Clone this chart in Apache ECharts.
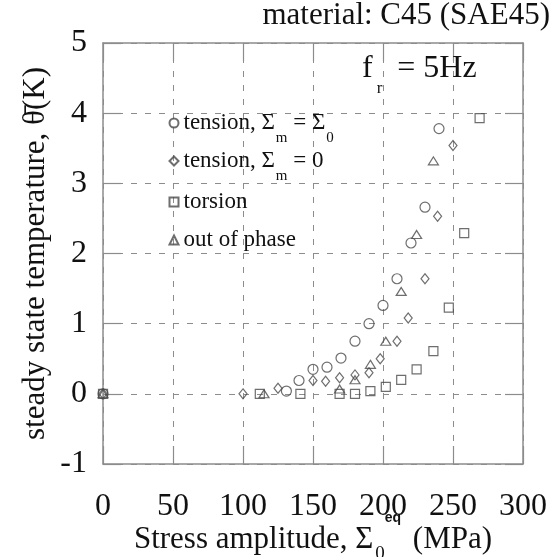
<!DOCTYPE html>
<html>
<head>
<meta charset="utf-8">
<script src="https://cdn.jsdelivr.net/npm/echarts@6/dist/echarts.min.js"></script>
<style>
html,body{margin:0;padding:0;background:#fff;}
#chart{width:560px;height:557px;}
</style>
</head>
<body>
<div id="chart"></div>
<script>
// axis ranges
const xMin = 0, xMax = 300, xStep = 50;
const yMin = -1, yMax = 5, yStep = 1;

// tension, Σm = Σ0 (circles)
const meanX = [0, 131, 140, 150, 160, 170, 180, 190, 200, 210, 220, 230, 240];
const meanY = [0, 0.04, 0.19, 0.35, 0.38, 0.51, 0.75, 1.0, 1.26, 1.64, 2.15, 2.66, 3.78];
// tension, Σm = 0 (diamonds)
const zeroX = [0, 100, 125, 150, 159, 169, 180, 190, 198, 210, 218, 230, 239, 250];
const zeroY = [0, 0, 0.08, 0.19, 0.18, 0.23, 0.27, 0.3, 0.5, 0.75, 1.08, 1.64, 2.53, 3.54];
// torsion (squares)
const torsX = [0, 112, 141, 169, 180, 191, 202, 213, 224, 236, 247, 258, 269];
const torsY = [0, 0, 0, 0, 0, 0.04, 0.1, 0.2, 0.35, 0.61, 1.23, 2.29, 3.93];
// out of phase (triangles)
const oopX = [0, 115, 169, 180, 191, 202, 213, 224, 236];
const oopY = [0, 0, 0.07, 0.2, 0.42, 0.75, 1.46, 2.27, 3.32];

const serif = '"Liberation Serif", "DejaVu Serif", serif';
const frameColor = '#8c8c8c';
const markColor = '#4a4a4a';

function zip(xs, ys) {
  return xs.map((x, i) => [x, ys[i]]);
}

const names = ['tension, Σm = Σ0', 'tension, Σm = 0', 'torsion', 'out of phase'];
const legendText = {
  'tension, Σm = Σ0': 'tension, Σ{sub|m} = Σ{sub|0}',
  'tension, Σm = 0': 'tension, Σ{sub|m} = 0',
  'torsion': 'torsion',
  'out of phase': 'out of phase'
};
const legendTop = [111.5, 149.5, 190.5, 228.5];

function series(name, xs, ys, symbol, size) {
  return {
    name: name,
    type: 'scatter',
    xAxisIndex: 0,
    yAxisIndex: 0,
    symbol: symbol,
    symbolSize: size,
    data: zip(xs, ys),
    itemStyle: {color: 'rgba(0,0,0,0)', borderColor: markColor, borderWidth: 1.2},
    emphasis: {disabled: true}
  };
}

const dashed = {show: true, lineStyle: {color: frameColor, width: 1, type: [6, 8]}};

function xAx(pos, main) {
  return {
    type: 'value', position: pos, min: xMin, max: xMax, interval: xStep,
    axisLine: {show: true, onZero: false, lineStyle: {color: frameColor, width: 1.5}},
    axisTick: {show: true, inside: true, length: 18, lineStyle: {color: frameColor, width: 1.2}},
    axisLabel: main ? {show: true, fontFamily: serif, fontSize: 32, color: '#111', margin: 27} : {show: false},
    splitLine: main ? dashed : {show: false},
    name: main ? 'Stress amplitude, Σ{sub|0}{sup|eq} (MPa)' : '',
    nameLocation: 'middle',
    nameGap: 47,
    nameMoveOverlap: false,
    nameTextStyle: {
      fontFamily: serif, fontSize: 31, color: '#111',
      rich: {
        sub: {fontFamily: serif, fontSize: 19, color: '#111', padding: [28, 0, 0, 2]},
        sup: {fontFamily: '"Liberation Sans", Arial, sans-serif', fontSize: 14, fontWeight: 'bold', color: '#111', padding: [0, 4, 44, 0]}
      }
    }
  };
}

function yAx(pos, main) {
  return {
    type: 'value', position: pos, min: yMin, max: yMax, interval: yStep,
    axisLine: {show: true, onZero: false, lineStyle: {color: frameColor, width: 1.5}},
    axisTick: {show: true, inside: true, length: 18, lineStyle: {color: frameColor, width: 1.2}},
    axisLabel: main ? {show: true, fontFamily: serif, fontSize: 32, color: '#111', margin: 16} : {show: false},
    splitLine: main ? dashed : {show: false},
    name: main ? 'steady state temperature, θ\u0304(K)' : '',
    nameLocation: 'middle',
    nameGap: 52,
    nameMoveOverlap: false,
    nameTextStyle: {fontFamily: serif, fontSize: 31, color: '#111'}
  };
}

const legendRich = {
  sub: {fontFamily: serif, fontSize: 15, color: '#111', padding: [30, 0, 0, 1]}
};

const chart = echarts.init(document.getElementById('chart'), null, {renderer: 'canvas'});
chart.setOption({
  backgroundColor: '#fff',
  animation: false,
  title: [
    {text: 'material: C45 (SAE45)', right: 5, top: -5,
     textStyle: {fontFamily: serif, fontSize: 31, fontWeight: 'normal', color: '#111'}},
    {text: 'f{sub|r} = 5Hz', left: 357, top: 35,
     textStyle: {fontFamily: serif, fontSize: 32, fontWeight: 'normal', color: '#111',
       rich: {sub: {fontFamily: serif, fontSize: 17, color: '#111', padding: [40, 7, 0, 4]}}}}
  ],
  legend: names.map((n, i) => ({
    data: [n],
    left: 168.5,
    top: legendTop[i],
    padding: 0,
    itemWidth: 9,
    itemHeight: 9,
    selectedMode: false,
    formatter: (name) => legendText[name],
    textStyle: {fontFamily: serif, fontSize: 23, color: '#111', rich: legendRich}
  })),
  grid: {left: 103, right: 37, top: 43, bottom: 93, containLabel: false, outerBoundsMode: 'none'},
  xAxis: [xAx('bottom', true), xAx('top', false)],
  yAxis: [yAx('left', true), yAx('right', false)],
  series: [
    series(names[0], meanX, meanY, 'circle', 10),
    series(names[1], zeroX, zeroY, 'diamond', [8, 10]),
    series(names[2], torsX, torsY, 'rect', 9),
    series(names[3], oopX, oopY, 'triangle', [10, 8])
  ]
});
</script>
</body>
</html>
